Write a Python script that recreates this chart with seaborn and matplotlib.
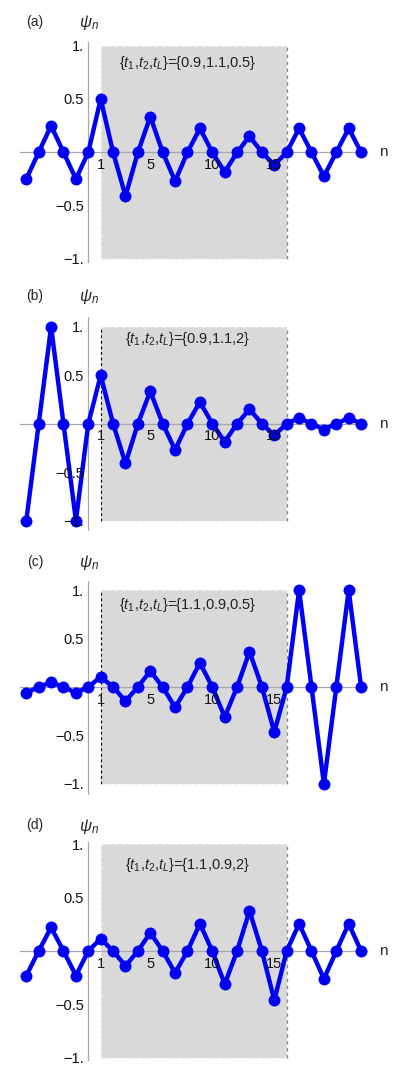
import numpy as np
import pandas as pd
import matplotlib
matplotlib.use("Agg")
import matplotlib.pyplot as plt
import seaborn as sns

# --- DATA ---
n_sites = list(range(-5, 23))

psi_a = [-0.25, 0, 0.25, 0, -0.25, 0, 0.5, 0, -0.41, 0, 0.335, 0, -0.27, 0, 0.225, 0,
         -0.185, 0, 0.15, 0, -0.12, 0, 0.225, 0, -0.225, 0, 0.225, 0]
psi_b = [-1.0, 0, 1.0, 0, -1.0, 0, 0.5, 0, -0.41, 0, 0.335, 0, -0.27, 0, 0.225, 0,
         -0.185, 0, 0.15, 0, -0.12, 0, 0.06, 0, -0.06, 0, 0.06, 0]
psi_c = [-0.06, 0, 0.05, 0, -0.06, 0, 0.105, 0, -0.145, 0, 0.165, 0, -0.21, 0, 0.25, 0,
         -0.31, 0, 0.365, 0, -0.465, 0, 1.0, 0, -1.0, 0, 1.0, 0]
psi_d = [-0.23, 0, 0.22, 0, -0.23, 0, 0.115, 0, -0.14, 0, 0.17, 0, -0.205, 0, 0.255, 0,
         -0.31, 0, 0.375, 0, -0.46, 0, 0.255, 0, -0.26, 0, 0.255, 0]

panel_tags = ["(a)", "(b)", "(c)", "(d)"]
param_labels = [r"{$t_1$,$t_2$,$t_L$}={0.9,1.1,0.5}",
                r"{$t_1$,$t_2$,$t_L$}={0.9,1.1,2}",
                r"{$t_1$,$t_2$,$t_L$}={1.1,0.9,0.5}",
                r"{$t_1$,$t_2$,$t_L$}={1.1,0.9,2}"]
xtick_vals = [1, 5, 10, 15]
xtick_labels = ["1", "5", "10", "15"]
ytick_vals = [-1, -0.5, 0.5, 1]
ytick_labels = ["\u22121.", "\u22120.5", "0.5", "1."]
box_lo, box_hi = 1, 16  # shaded chain region

# --- STYLE ---
sns.set_style("white")
plt.rcParams['font.family'] = ['Liberation Sans', 'DejaVu Sans']
plt.rcParams['mathtext.fontset'] = 'custom'
plt.rcParams['mathtext.rm'] = 'Liberation Sans'
plt.rcParams['mathtext.it'] = 'Liberation Sans:italic'

W, H = 409, 1084
fig = plt.figure(figsize=(W / 100, H / 100), dpi=100)

# layout per panel: (top px, bottom px, ylim, text y, left-edge color, tag y px, psi label y px)
layout = [
    (42.4, 262.2, 1.03, 0.84, '#f2f2f2', 22, 23),
    (317.2, 530.2, 1.10, 0.88, 'black', 296, 297),
    (580.5, 793.5, 1.10, 0.85, 'black', 562, 563),
    (841.9, 1060.1, 1.02, 0.80, '#f2f2f2', 825, 827),
]
all_psi = [psi_a, psi_b, psi_c, psi_d]

for i, psi in enumerate(all_psi):
    top, bot, ylim, ty, edge_col, tag_y, psi_y = layout[i]
    ax = fig.add_axes([20.1 / W, 1 - bot / H, 347.2 / W, (bot - top) / H])
    df = pd.DataFrame({'n': n_sites, 'psi': psi})

    ax.fill_between([box_lo, box_hi], -1, 1, color='#d9d9d9', lw=0, zorder=0)
    ax.vlines(box_hi, -1, 1, colors='#8a8a8a', linestyles=(0, (2.5, 2.5)), lw=1.0, zorder=1)
    ax.vlines(box_lo, -1, 1, colors=edge_col, linestyles=(0, (2.5, 2.5)), lw=0.8, zorder=1)
    ax.hlines([-1, 1], box_lo, box_hi, colors='#f0f0f0', linestyles=(0, (3, 3)), lw=0.8, zorder=1)

    sns.lineplot(data=df, x='n', y='psi', ax=ax, color='#0000f5', lw=3.2,
                 marker='o', markersize=8.6, markeredgewidth=0, zorder=5)

    ax.set_xlim(-5.5, 22.5)
    ax.set_ylim(-ylim, ylim)
    for s in ['top', 'right']:
        ax.spines[s].set_visible(False)
    ax.spines['left'].set_position(('data', 0))
    ax.spines['bottom'].set_position(('data', 0))
    for s in ['left', 'bottom']:
        ax.spines[s].set_color('#a8a8a8')
        ax.spines[s].set_linewidth(0.9)
        ax.spines[s].set_zorder(2)

    ax.set_xticks(xtick_vals)
    ax.set_xticklabels(xtick_labels)
    ax.set_yticks(ytick_vals)
    ax.set_yticklabels(ytick_labels)
    ax.tick_params(direction='in', length=3, width=0.8, color='#a8a8a8',
                   labelsize=10.5, labelcolor='#111111')
    ax.tick_params(axis='x', pad=4)
    ax.tick_params(axis='y', pad=3)
    # tick labels sit on top of the curve, as in the original
    ax.xaxis.set_zorder(6)
    ax.yaxis.set_zorder(6)
    ax.set_xlabel('')
    ax.set_ylabel('')
    ax.patch.set_alpha(0)

    ax.text(8, ty, param_labels[i], ha='center', va='center', fontsize=10.5, color='#222222', zorder=6)
    ax.text(23.8, 0, 'n', ha='center', va='center', fontsize=11, clip_on=False)

    fig.text(35 / W, 1 - tag_y / H, panel_tags[i], ha='center', va='center', fontsize=10)
    fig.text(89 / W, 1 - psi_y / H, r'$\psi_n$', ha='center', va='center', fontsize=12)

fig.savefig('out.png', dpi=100)
